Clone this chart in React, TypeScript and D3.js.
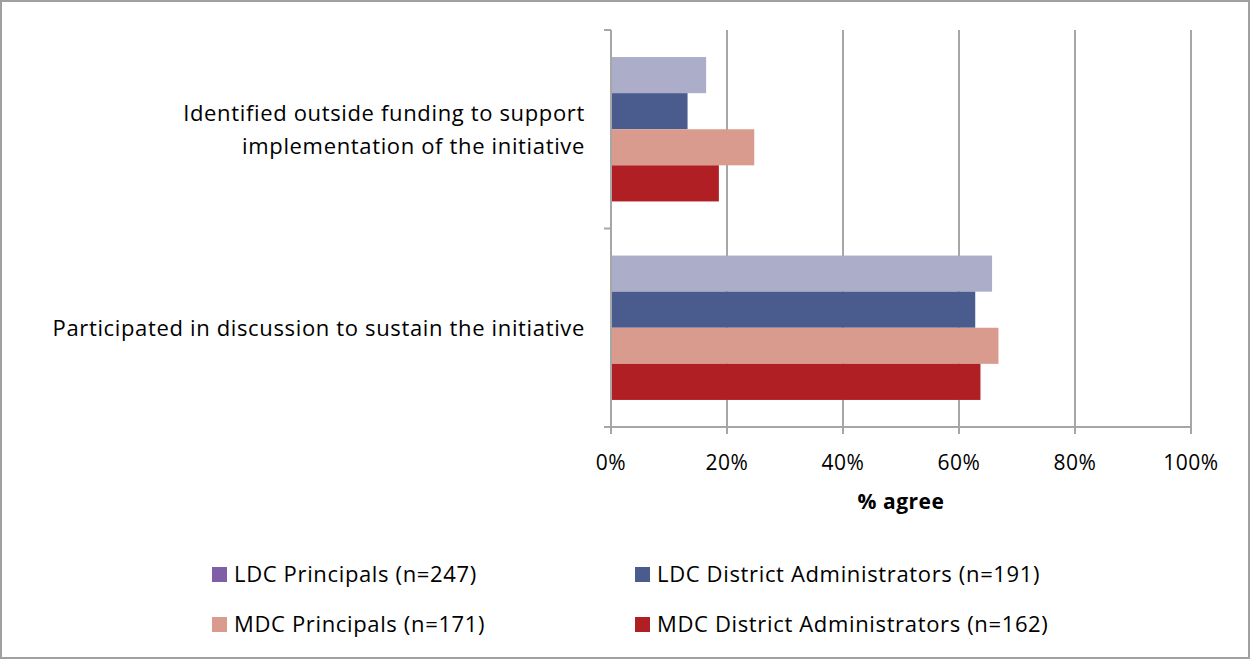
import React from "react";
import * as d3 from "d3";

const categories = [
  ["Identified outside funding to support", "implementation of the initiative"],
  ["Participated in discussion to sustain the initiative"],
];
const categoryKeys = ["funding", "discussion"];
const seriesNames = [
  "LDC Principals (n=247)",
  "LDC District Administrators (n=191)",
  "MDC Principals (n=171)",
  "MDC District Administrators (n=162)",
];
const barColors = ["#abadc9", "#4a5b8d", "#d89b8d", "#b01f24"];
const legendColors = ["#7f5fa8", "#4a5b8d", "#d89b8d", "#b01f24"];
const values = [
  [16.4, 65.7],
  [13.2, 62.8],
  [24.7, 66.8],
  [18.6, 63.7],
];
const xTicks = [0, 20, 40, 60, 80, 100];

const W = 1250, H = 659;
const left = 611, right = 1191, top = 30, bottom = 427;
const font = "'Open Sans', sans-serif";
const fs = 22;
const ls = 0.65;

export default function App() {
  const x = d3.scaleLinear().domain([0, 100]).range([left, right]);
  const y0 = d3.scaleBand().domain(categoryKeys).range([top, bottom]).paddingInner(0).paddingOuter(0);
  const y1 = d3.scaleBand().domain(seriesNames).range([0, y0.bandwidth()]).paddingInner(0).paddingOuter(0.75);
  const grid = "#a6a6a6";
  return (
    <svg width={W} height={H} style={{ position: "absolute", left: 0, top: 0 }} fontFamily={font}>
      <rect x={1} y={1} width={W - 2} height={H - 2} fill="#fff" stroke="#a0a0a0" strokeWidth={2} />
      {xTicks.slice(1).map((t) => (
        <line key={t} x1={x(t)} x2={x(t)} y1={top} y2={bottom} stroke={grid} strokeWidth={2} />
      ))}
      {categoryKeys.map((c, ci) =>
        seriesNames.map((s, si) => (
          <rect
            key={c + s}
            x={x(0)}
            y={(y0(c) as number) + (y1(s) as number)}
            width={x(values[si][ci]) - x(0)}
            height={y1.bandwidth()}
            fill={barColors[si]}
          />
        ))
      )}
      <line x1={left} x2={left} y1={top} y2={bottom} stroke={grid} strokeWidth={2} />
      <line x1={left - 7} x2={right} y1={bottom} y2={bottom} stroke={grid} strokeWidth={2} />
      {[top, top + y0.bandwidth(), bottom].map((yy, i) => (
        <line key={i} x1={left - 7} x2={left} y1={yy} y2={yy} stroke={grid} strokeWidth={2} />
      ))}
      {xTicks.map((t) => (
        <g key={t}>
          <line x1={x(t)} x2={x(t)} y1={bottom} y2={bottom + 7} stroke={grid} strokeWidth={2} />
          <text x={x(t)} y={470} textAnchor="middle" fontSize={21} letterSpacing={0.5} fill="#000">{t}%</text>
        </g>
      ))}
      <text x={(left + right) / 2} y={509} textAnchor="middle" fontSize={21} letterSpacing={0.5} fontWeight="bold" fill="#000">% agree</text>
      {categoryKeys.map((c, ci) => {
        const lines = categories[ci];
        const cy = (y0(c) as number) + y0.bandwidth() / 2;
        const lh = 33;
        return lines.map((l, li) => (
          <text key={c + li} x={585} y={cy + (li - (lines.length - 1) / 2) * lh + 8} textAnchor="end" fontSize={fs} letterSpacing={ls} fill="#000">
            {l}
          </text>
        ));
      })}
      {seriesNames.map((s, i) => {
        const col = i % 2;
        const row = Math.floor(i / 2);
        const lx = col === 0 ? 212 : 635;
        const ly = 574.5 + row * 50;
        return (
          <g key={s}>
            <rect x={lx} y={ly - 7.5} width={15} height={15} fill={legendColors[i]} />
            <text x={lx + 22} y={ly + 7} fontSize={fs} letterSpacing={ls} fill="#000">{s}</text>
          </g>
        );
      })}
    </svg>
  );
}
